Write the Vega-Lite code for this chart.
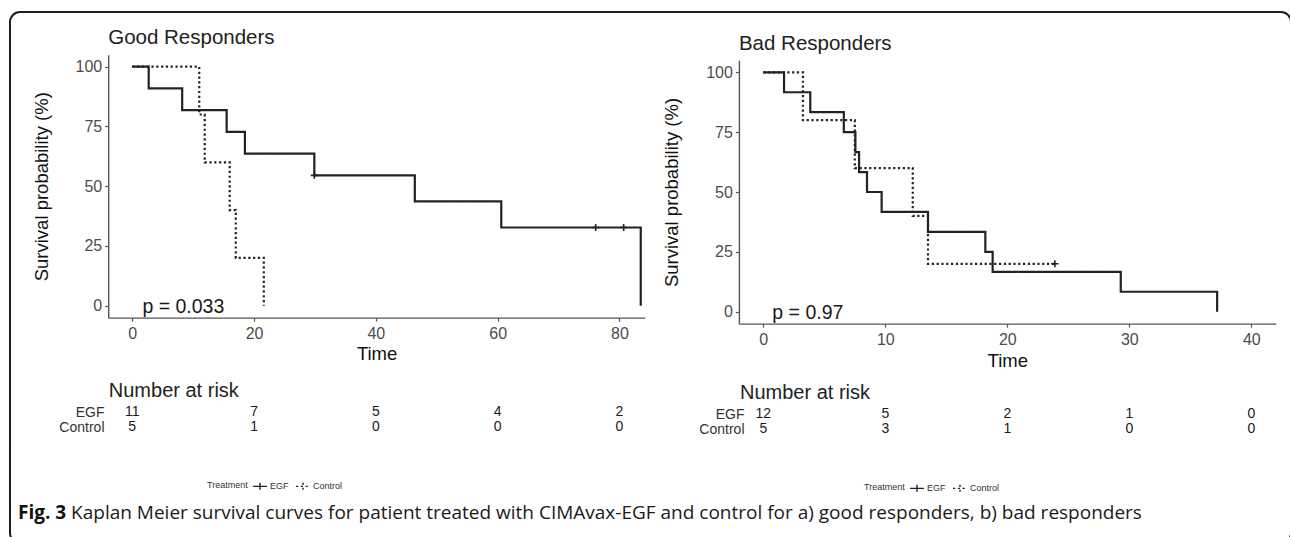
{
  "$schema": "https://vega.github.io/schema/vega-lite/v6.json",
  "width": 1281,
  "height": 531,
  "autosize": {"type": "none"},
  "padding": {"left": 10, "top": 12, "right": -1, "bottom": -6},
  "background": "white",
  "config": {
    "font": "Liberation Sans",
    "view": {"stroke": "#1e1e1e", "strokeWidth": 2, "cornerRadius": 10},
    "axis": {
      "grid": false,
      "labelFont": "Liberation Sans",
      "titleFont": "Liberation Sans",
      "domainColor": "#555555",
      "domainWidth": 1.4,
      "tickColor": "#555555",
      "tickWidth": 1.2,
      "tickSize": 3.5,
      "labelColor": "#4d4d4d",
      "labelFontSize": 16,
      "labelPadding": 4,
      "labelFlush": false,
      "titleFontSize": 18.5,
      "titleFontWeight": "normal",
      "titleColor": "#111111"
    },
    "legend": {"labelFont": "Liberation Sans", "titleFont": "Liberation Sans"},
    "text": {"font": "Liberation Sans"}
  },
  "datasets": {
    "curves": [
      {"panel": "good", "group": "EGF", "time": 0, "surv": 100},
      {"panel": "good", "group": "EGF", "time": 2.7, "surv": 90.91},
      {"panel": "good", "group": "EGF", "time": 8.2, "surv": 81.82},
      {"panel": "good", "group": "EGF", "time": 15.5, "surv": 72.73},
      {"panel": "good", "group": "EGF", "time": 18.5, "surv": 63.64},
      {"panel": "good", "group": "EGF", "time": 29.9, "surv": 54.55},
      {"panel": "good", "group": "EGF", "time": 46.4, "surv": 43.64},
      {"panel": "good", "group": "EGF", "time": 60.6, "surv": 32.73},
      {"panel": "good", "group": "EGF", "time": 83.5, "surv": 0},
      {"panel": "good", "group": "Control", "time": 0, "surv": 100},
      {"panel": "good", "group": "Control", "time": 11.0, "surv": 80},
      {"panel": "good", "group": "Control", "time": 11.9, "surv": 60},
      {"panel": "good", "group": "Control", "time": 16.0, "surv": 40},
      {"panel": "good", "group": "Control", "time": 17.0, "surv": 20},
      {"panel": "good", "group": "Control", "time": 21.6, "surv": 0},
      {"panel": "bad", "group": "EGF", "time": 0, "surv": 100},
      {"panel": "bad", "group": "EGF", "time": 1.7, "surv": 91.67},
      {"panel": "bad", "group": "EGF", "time": 3.85, "surv": 83.33},
      {"panel": "bad", "group": "EGF", "time": 6.6, "surv": 75},
      {"panel": "bad", "group": "EGF", "time": 7.55, "surv": 66.67},
      {"panel": "bad", "group": "EGF", "time": 7.85, "surv": 58.33},
      {"panel": "bad", "group": "EGF", "time": 8.5, "surv": 50},
      {"panel": "bad", "group": "EGF", "time": 9.7, "surv": 41.67},
      {"panel": "bad", "group": "EGF", "time": 13.5, "surv": 33.33},
      {"panel": "bad", "group": "EGF", "time": 18.2, "surv": 25},
      {"panel": "bad", "group": "EGF", "time": 18.8, "surv": 16.67},
      {"panel": "bad", "group": "EGF", "time": 29.3, "surv": 8.33},
      {"panel": "bad", "group": "EGF", "time": 37.2, "surv": 0},
      {"panel": "bad", "group": "Control", "time": 0, "surv": 100},
      {"panel": "bad", "group": "Control", "time": 3.25, "surv": 80},
      {"panel": "bad", "group": "Control", "time": 7.5, "surv": 60},
      {"panel": "bad", "group": "Control", "time": 12.25, "surv": 40},
      {"panel": "bad", "group": "Control", "time": 13.5, "surv": 20},
      {"panel": "bad", "group": "Control", "time": 23.9, "surv": 20}
    ],
    "censors": [
      {"panel": "good", "group": "EGF", "time": 29.9, "surv": 54.55},
      {"panel": "good", "group": "EGF", "time": 76.1, "surv": 32.73},
      {"panel": "good", "group": "EGF", "time": 80.7, "surv": 32.73},
      {"panel": "bad", "group": "Control", "time": 23.9, "surv": 20}
    ],
    "pvals": [
      {"panel": "good", "label": "p = 0.033", "time": 1.67, "surv": 0},
      {"panel": "bad", "label": "p = 0.97", "time": 0.74, "surv": 0}
    ],
    "titles": [
      {"panel": "good", "label": "Good Responders"},
      {"panel": "bad", "label": "Bad Responders"}
    ],
    "risk": [
      {"panel": "good", "group": "EGF", "time": 0, "n": 11},
      {"panel": "good", "group": "EGF", "time": 20, "n": 7},
      {"panel": "good", "group": "EGF", "time": 40, "n": 5},
      {"panel": "good", "group": "EGF", "time": 60, "n": 4},
      {"panel": "good", "group": "EGF", "time": 80, "n": 2},
      {"panel": "good", "group": "Control", "time": 0, "n": 5},
      {"panel": "good", "group": "Control", "time": 20, "n": 1},
      {"panel": "good", "group": "Control", "time": 40, "n": 0},
      {"panel": "good", "group": "Control", "time": 60, "n": 0},
      {"panel": "good", "group": "Control", "time": 80, "n": 0},
      {"panel": "bad", "group": "EGF", "time": 0, "n": 12},
      {"panel": "bad", "group": "EGF", "time": 10, "n": 5},
      {"panel": "bad", "group": "EGF", "time": 20, "n": 2},
      {"panel": "bad", "group": "EGF", "time": 30, "n": 1},
      {"panel": "bad", "group": "EGF", "time": 40, "n": 0},
      {"panel": "bad", "group": "Control", "time": 0, "n": 5},
      {"panel": "bad", "group": "Control", "time": 10, "n": 3},
      {"panel": "bad", "group": "Control", "time": 20, "n": 1},
      {"panel": "bad", "group": "Control", "time": 30, "n": 0},
      {"panel": "bad", "group": "Control", "time": 40, "n": 0}
    ],
    "caption": [
      {"part": "label", "text": "Fig. 3"},
      {"part": "body", "text": "Kaplan Meier survival curves for patient treated with CIMAvax-EGF and control for a) good responders, b) bad responders"}
    ]
  },
  "layer": [
    {
      "layer": [
        {
          "layer": [
            {
              "data": {"name": "curves"},
              "transform": [{"filter": "datum.panel == 'good'"}],
              "mark": {"type": "line", "interpolate": "step-after", "strokeWidth": 2.2, "color": "#222222"},
              "encoding": {
                "x": {"field": "time", "type": "quantitative",
                  "scale": {"domain": [-3.95, 84.2], "range": [98.2, 635], "nice": false, "zero": false},
                  "axis": {"orient": "bottom", "offset": -225.35, "values": [0, 20, 40, 60, 80], "title": "Time", "titleX": 366.6, "titleY": 42.3, "titleAlign": "center", "titleBaseline": "alphabetic", "titleAngle": 0}},
                "y": {"field": "surv", "type": "quantitative",
                  "scale": {"domain": [-5, 105], "range": [305.65, 42.75], "nice": false, "zero": false},
                  "axis": {"orient": "left", "offset": -98.2, "values": [0, 25, 50, 75, 100], "labelPadding": 3, "title": "Survival probability (%)", "titleX": -61, "titleY": 174.2, "titleAngle": 270, "titleAlign": "center", "titleBaseline": "alphabetic"}},
                "strokeDash": {"field": "group", "type": "nominal",
                  "scale": {"domain": ["EGF", "Control"], "range": [[1, 0], [2.2, 2.6]]},
                  "legend": {"orient": "none", "legendX": 197, "legendY": 466, "direction": "horizontal", "title": "Treatment", "titleOrient": "left", "titleFontSize": 9, "titleFontWeight": "normal", "titleColor": "#333333", "titlePadding": 4, "titleBaseline": "middle", "labelFontSize": 9, "labelColor": "#333333", "labelOffset": 2, "columnPadding": 4, "symbolType": "M-1,0H1M0,-0.5V0.5", "symbolSize": 196, "symbolStrokeColor": "#222222", "symbolStrokeWidth": 1.4}}
              }
            },
            {
              "data": {"name": "censors"},
              "transform": [{"filter": "datum.panel == 'good'"}],
              "mark": {"type": "point", "shape": "M-1,0H1M0,-1V1", "size": 50, "filled": false, "strokeWidth": 1.6, "color": "#222222", "opacity": 1},
              "encoding": {
                "x": {"field": "time", "type": "quantitative"},
                "y": {"field": "surv", "type": "quantitative"}
              }
            },
            {
              "data": {"name": "pvals"},
              "transform": [{"filter": "datum.panel == 'good'"}],
              "mark": {"type": "text", "align": "left", "baseline": "alphabetic", "dy": 7, "fontSize": 19.5, "color": "#1a1a1a"},
              "encoding": {
                "x": {"field": "time", "type": "quantitative"},
                "y": {"field": "surv", "type": "quantitative"},
                "text": {"field": "label"}
              }
            },
            {
              "data": {"name": "titles"},
              "transform": [{"filter": "datum.panel == 'good'"}],
              "mark": {"type": "text", "align": "left", "baseline": "alphabetic", "dy": -10.75, "fontSize": 20.5, "color": "#222222"},
              "encoding": {
                "x": {"datum": -3.95},
                "y": {"datum": 105},
                "text": {"field": "label"}
              }
            }
          ]
        },
        {
          "data": {"name": "risk"},
          "transform": [{"filter": "datum.panel == 'good'"}],
          "mark": {"type": "text", "fontSize": 14, "align": "center", "baseline": "alphabetic", "color": "#1a1a1a"},
          "encoding": {
            "x": {"field": "time", "type": "quantitative"},
            "y": {"field": "group", "type": "nominal",
              "scale": {"type": "point", "domain": ["EGF", "Control"], "range": [404, 419], "padding": 0},
              "axis": {"orient": "left", "offset": -96, "domain": false, "ticks": false, "labelPadding": 2, "labelFontSize": 14, "labelColor": "#333333", "labelBaseline": "alphabetic", "title": "Number at risk", "titleAngle": 0, "titleAlign": "left", "titleBaseline": "alphabetic", "titleX": 2.3, "titleY": 384, "titleFontSize": 20, "titleColor": "#222222"}},
            "text": {"field": "n", "type": "quantitative"}
          }
        }
      ],
      "resolve": {"scale": {"y": "independent"}, "axis": {"y": "independent"}}
    },
    {
      "layer": [
        {
          "layer": [
            {
              "data": {"name": "curves"},
              "transform": [{"filter": "datum.panel == 'bad'"}],
              "mark": {"type": "line", "interpolate": "step-after", "strokeWidth": 2.2, "color": "#222222"},
              "encoding": {
                "x": {"field": "time", "type": "quantitative",
                  "scale": {"domain": [-2, 42], "range": [728.9, 1265.7], "nice": false, "zero": false},
                  "axis": {"orient": "bottom", "offset": -219.35, "values": [0, 10, 20, 30, 40], "title": "Time", "titleX": 997.3, "titleY": 43, "titleAlign": "center", "titleBaseline": "alphabetic", "titleAngle": 0}},
                "y": {"field": "surv", "type": "quantitative",
                  "scale": {"domain": [-5, 105], "range": [311.65, 48.35], "nice": false, "zero": false},
                  "axis": {"orient": "left", "offset": -728.9, "values": [0, 25, 50, 75, 100], "labelPadding": 3, "title": "Survival probability (%)", "titleX": -61, "titleY": 180, "titleAngle": 270, "titleAlign": "center", "titleBaseline": "alphabetic"}},
                "strokeDash": {"field": "group", "type": "nominal",
                  "scale": {"domain": ["EGF", "Control"], "range": [[1, 0], [2.2, 2.6]]},
                  "legend": {"orient": "none", "legendX": 854, "legendY": 468, "direction": "horizontal", "title": "Treatment", "titleOrient": "left", "titleFontSize": 9, "titleFontWeight": "normal", "titleColor": "#333333", "titlePadding": 4, "titleBaseline": "middle", "labelFontSize": 9, "labelColor": "#333333", "labelOffset": 2, "columnPadding": 4, "symbolType": "M-1,0H1M0,-0.5V0.5", "symbolSize": 196, "symbolStrokeColor": "#222222", "symbolStrokeWidth": 1.4}}
              }
            },
            {
              "data": {"name": "censors"},
              "transform": [{"filter": "datum.panel == 'bad'"}],
              "mark": {"type": "point", "shape": "M-1,0H1M0,-1V1", "size": 50, "filled": false, "strokeWidth": 1.6, "color": "#222222", "opacity": 1},
              "encoding": {
                "x": {"field": "time", "type": "quantitative"},
                "y": {"field": "surv", "type": "quantitative"}
              }
            },
            {
              "data": {"name": "pvals"},
              "transform": [{"filter": "datum.panel == 'bad'"}],
              "mark": {"type": "text", "align": "left", "baseline": "alphabetic", "dy": 7, "fontSize": 19.5, "color": "#1a1a1a"},
              "encoding": {
                "x": {"field": "time", "type": "quantitative"},
                "y": {"field": "surv", "type": "quantitative"},
                "text": {"field": "label"}
              }
            },
            {
              "data": {"name": "titles"},
              "transform": [{"filter": "datum.panel == 'bad'"}],
              "mark": {"type": "text", "align": "left", "baseline": "alphabetic", "dy": -10.35, "fontSize": 20.5, "color": "#222222"},
              "encoding": {
                "x": {"datum": -2},
                "y": {"datum": 105},
                "text": {"field": "label"}
              }
            }
          ]
        },
        {
          "data": {"name": "risk"},
          "transform": [{"filter": "datum.panel == 'bad'"}],
          "mark": {"type": "text", "fontSize": 14, "align": "center", "baseline": "alphabetic", "color": "#1a1a1a"},
          "encoding": {
            "x": {"field": "time", "type": "quantitative"},
            "y": {"field": "group", "type": "nominal",
              "scale": {"type": "point", "domain": ["EGF", "Control"], "range": [406, 421], "padding": 0},
              "axis": {"orient": "left", "offset": -736, "domain": false, "ticks": false, "labelPadding": 2, "labelFontSize": 14, "labelColor": "#333333", "labelBaseline": "alphabetic", "title": "Number at risk", "titleAngle": 0, "titleAlign": "left", "titleBaseline": "alphabetic", "titleX": -6.5, "titleY": 386, "titleFontSize": 20, "titleColor": "#222222"}},
            "text": {"field": "n", "type": "quantitative"}
          }
        }
      ],
      "resolve": {"scale": {"y": "independent"}, "axis": {"y": "independent"}}
    },
    {
      "data": {"name": "caption"},
      "encoding": {
        "x": {"field": "part", "type": "nominal", "scale": {"type": "point", "domain": ["label", "body"], "range": [8, 61.1], "padding": 0}, "axis": null},
        "y": {"field": "part", "type": "nominal", "scale": {"type": "point", "domain": ["label", "body"], "range": [506.8, 506.8], "padding": 0}, "axis": null},
        "text": {"field": "text"}
      },
      "layer": [
        {
          "transform": [{"filter": "datum.part == 'label'"}],
          "mark": {"type": "text", "font": "Open Sans", "fontWeight": "bold", "fontSize": 19, "align": "left", "baseline": "alphabetic", "color": "#111111"}
        },
        {
          "transform": [{"filter": "datum.part == 'body'"}],
          "mark": {"type": "text", "font": "Open Sans", "fontSize": 19, "align": "left", "baseline": "alphabetic", "color": "#1a1a1a"}
        }
      ]
    }
  ],
  "resolve": {
    "scale": {"x": "independent", "y": "independent", "strokeDash": "independent"},
    "axis": {"x": "independent", "y": "independent"},
    "legend": {"strokeDash": "independent"}
  }
}
